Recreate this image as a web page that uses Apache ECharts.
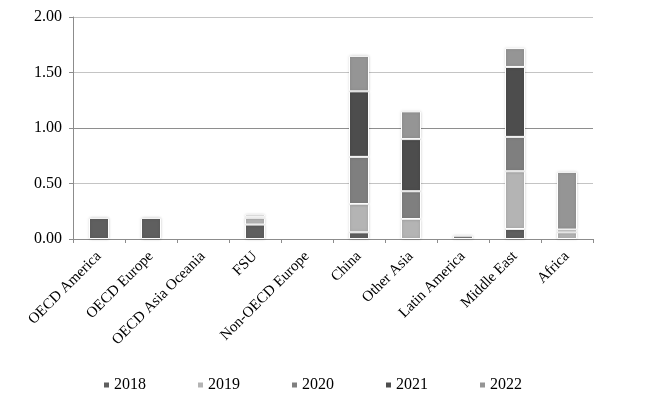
<!DOCTYPE html>
<html>
<head>
<meta charset="utf-8">
<script src="https://cdn.jsdelivr.net/npm/echarts@6/dist/echarts.min.js"></script>
<style>
    html, body {margin: 0; padding: 0; background: #fff;}
    #main-bar-chart {width: 665px; height: 403px;}
</style>
</head>
<body>
<div id="main-bar-chart"></div>
<script>
// 地区分类
var regions = ["OECD America", "OECD Europe", "OECD Asia Oceania", "FSU", "Non-OECD Europe",
    "China", "Other Asia", "Latin America", "Middle East", "Africa"];
var years = ["2018", "2019", "2020", "2021", "2022"];
// 每年数值
var v2018 = [0.19, 0.19, 0, 0.13, 0, 0.06, 0, 0, 0.09, 0];
var v2019 = [0, 0, 0, 0.06, 0, 0.255, 0.18, 0, 0.52, 0.06];
var v2020 = [0, 0, 0, 0.01, 0, 0.425, 0.25, 0.03, 0.31, 0.025];
var v2021 = [0, 0, 0, 0, 0, 0.59, 0.47, 0, 0.63, 0];
var v2022 = [0, 0, 0, 0.02, 0, 0.32, 0.25, 0, 0.17, 0.52];
var yTicks = [0, 0.5, 1, 1.5, 2];

var colors = ["#5f5f5f", "#b4b4b4", "#7f7f7f", "#4d4d4d", "#959595"];
var allValues = [v2018, v2019, v2020, v2021, v2022];
var font = "'Liberation Serif', 'Times New Roman', serif";

var seriesList = [];
years.forEach(function (year, i) {
    seriesList.push({
        name: year,
        type: "bar",
        stack: "total",
        barWidth: 20,
        data: allValues[i].map(function (v) {
            return v === 0 ? null : v;
        }),
        itemStyle: {
            color: colors[i],
            borderColor: "#fff",
            borderWidth: 1,
            shadowColor: "rgba(0, 0, 0, 0.18)",
            shadowBlur: 3
        }
    });
});

var chart = echarts.init(document.getElementById("main-bar-chart"));
chart.setOption({
    animation: false,
    color: colors,
    textStyle: {fontFamily: font},
    legend: {
        data: years,
        left: 97,
        top: 372,
        icon: "rect",
        itemWidth: 7,
        itemHeight: 7,
        itemGap: 50,
        textStyle: {fontFamily: font, fontSize: 16, color: "#000", padding: [0, 0, 0, -1]}
    },
    grid: {
        left: 73,
        right: 72,
        top: 17,
        bottom: 164,
        containLabel: false
    },
    xAxis: {
        type: "category",
        data: regions,
        axisLine: {lineStyle: {color: "#8c8c8c", width: 1}},
        axisTick: {show: true, length: 4, lineStyle: {color: "#8c8c8c"}},
        axisLabel: {
            rotate: 45,
            margin: 15,
            fontFamily: font,
            fontSize: 15,
            color: "#000",
            interval: 0
        }
    },
    yAxis: {
        type: "value",
        min: yTicks[0],
        max: yTicks[yTicks.length - 1],
        interval: 0.5,
        axisLine: {show: true, lineStyle: {color: "#8c8c8c", width: 1}},
        axisTick: {show: true, length: 4, lineStyle: {color: "#8c8c8c"}},
        axisLabel: {
            margin: 11,
            fontFamily: font,
            fontSize: 16,
            color: "#000",
            formatter: function (v) {
                return v.toFixed(2);
            }
        },
        splitLine: {
            show: true,
            lineStyle: {color: ["#c4c4c4", "#c4c4c4", "#8e8e8e", "#c4c4c4", "#c4c4c4"], width: 1}
        }
    },
    series: seriesList
});
</script>
</body>
</html>
